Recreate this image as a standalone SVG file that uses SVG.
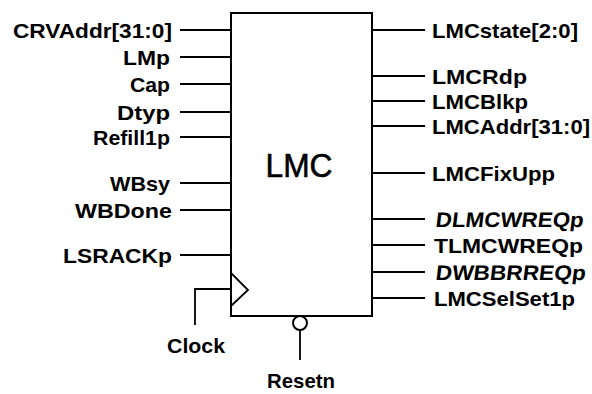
<svg xmlns="http://www.w3.org/2000/svg" width="592" height="394" viewBox="0 0 592 394">
<style>
.w{stroke:#000;stroke-width:1.8;fill:none}
.b{stroke:#000;stroke-width:2;fill:#fff}
.l{font-family:"Liberation Sans",Arial,sans-serif;font-size:21px;font-weight:bold;fill:#000}
.e{text-anchor:end}
.m{text-anchor:middle}
</style>
<rect width="592" height="394" fill="#fff"/>
<g id="LMC">
<rect class="b" x="231" y="13" width="141" height="303"/>
<polyline class="w" points="231,273 248,290 231,306"/>
<text x="299" y="177" class="m" style="font-family:'Liberation Sans',Arial,sans-serif;font-size:34px;stroke:#000;stroke-width:0.6" textLength="67" lengthAdjust="spacingAndGlyphs">LMC</text>
<circle class="b" cx="300" cy="323" r="7"/>
</g>
<g id="connectors">
<path class="w" d="M180 30H231M180 57H231M180 84H231M180 112H231M180 137H231M180 183H231M180 210H231M180 255H231"/>
<path class="w" d="M372 30H425M372 76H425M372 101H425M372 126H425M372 173H425M372 219H425M372 245H425M372 272H425M372 298H425"/>
<path class="w" d="M231 289H195V325"/>
<path class="w" d="M300 330V360"/>
</g>
<g id="inputs">
<text class="l e" x="172" y="38" textLength="159" lengthAdjust="spacingAndGlyphs">CRVAddr[31:0]</text>
<text class="l e" x="170" y="65" textLength="47" lengthAdjust="spacingAndGlyphs">LMp</text>
<text class="l e" x="170" y="92" textLength="40" lengthAdjust="spacingAndGlyphs">Cap</text>
<text class="l e" x="170" y="120" textLength="53" lengthAdjust="spacingAndGlyphs">Dtyp</text>
<text class="l e" x="170" y="145" textLength="77" lengthAdjust="spacingAndGlyphs">Refill1p</text>
<text class="l e" x="170" y="191" textLength="60" lengthAdjust="spacingAndGlyphs">WBsy</text>
<text class="l e" x="172" y="218" textLength="97" lengthAdjust="spacingAndGlyphs">WBDone</text>
<text class="l e" x="172" y="263" textLength="109" lengthAdjust="spacingAndGlyphs">LSRACKp</text>
<text class="l m" x="196" y="353" textLength="58" lengthAdjust="spacingAndGlyphs">Clock</text>
<text class="l m" x="301" y="388" textLength="68" lengthAdjust="spacingAndGlyphs">Resetn</text>
</g>
<g id="outputs">
<text class="l" x="432" y="38" textLength="146" lengthAdjust="spacingAndGlyphs">LMCstate[2:0]</text>
<text class="l" x="432" y="84" textLength="95" lengthAdjust="spacingAndGlyphs">LMCRdp</text>
<text class="l" x="432" y="109" textLength="96" lengthAdjust="spacingAndGlyphs">LMCBlkp</text>
<text class="l" x="432" y="134" textLength="158" lengthAdjust="spacingAndGlyphs">LMCAddr[31:0]</text>
<text class="l" x="432" y="181" textLength="123" lengthAdjust="spacingAndGlyphs">LMCFixUpp</text>
<text class="l" transform="translate(435,227) skewX(-7)" textLength="148" lengthAdjust="spacingAndGlyphs">DLMCWREQp</text>
<text class="l" x="434" y="253" textLength="149" lengthAdjust="spacingAndGlyphs">TLMCWREQp</text>
<text class="l" transform="translate(435,280) skewX(-7)" textLength="150" lengthAdjust="spacingAndGlyphs">DWBBRREQp</text>
<text class="l" x="434" y="306" textLength="141" lengthAdjust="spacingAndGlyphs">LMCSelSet1p</text>
</g>
</svg>
